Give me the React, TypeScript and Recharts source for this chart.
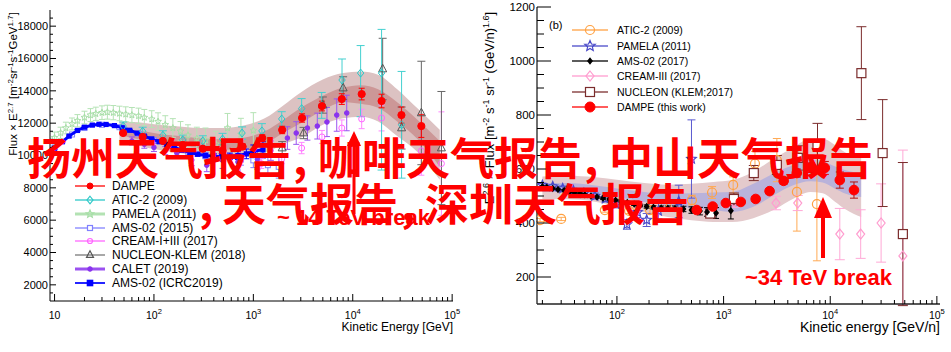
import React from "react";
import { Area, ComposedChart, ErrorBar, Scatter, XAxis, YAxis } from "recharts";

const FONT = '"Liberation Sans", Arial, sans-serif';
const CJK = '"Noto Sans CJK SC", "Noto Sans CJK JP", sans-serif';

// ---------------- left panel: protons, E in GeV, flux x E^2.7
const pDomX = [9, 102000];
const pDomY = [1000, 19000];
const pXMajor = [10, 100, 1000, 10000, 100000];
const pXExp = ["", "2", "3", "4", "5"];
const pXMinor = [20, 30, 40, 50, 60, 70, 80, 90, 200, 300, 400, 500, 600, 700, 800, 900, 2000, 3000, 4000, 5000, 6000, 7000, 8000, 9000, 20000, 30000, 40000, 50000, 60000, 70000, 80000, 90000];
const pYMajor = [2000, 4000, 6000, 8000, 10000, 12000, 14000, 16000, 18000];
const pYMinor = [1500, 2500, 3000, 3500, 4500, 5000, 5500, 6500, 7000, 7500, 8500, 9000, 9500, 10500, 11000, 11500, 12500, 13000, 13500, 14500, 15000, 15500, 16500, 17000, 17500, 18500];

const pBandE = [45, 70, 110, 180, 300, 500, 800, 1300, 2000, 3000, 5000, 8000, 12000, 18000, 28000, 45000, 75000];
const pOuterHi = [12100, 12050, 11900, 11800, 11700, 11700, 11850, 12300, 13100, 13900, 14700, 15100, 15200, 15000, 14100, 12900, 11600];
const pOuterLo = [10900, 10600, 10350, 10150, 9950, 9850, 9900, 10150, 10700, 11100, 11900, 12300, 12400, 12100, 11200, 10200, 8500];
const pInnerHi = [11650, 11550, 11350, 11200, 11050, 11000, 11100, 11500, 12200, 12950, 13700, 14200, 14350, 14100, 13300, 12200, 10900];
const pInnerLo = [11250, 11000, 10800, 10600, 10450, 10350, 10400, 10700, 11400, 12000, 12800, 13300, 13200, 12950, 12100, 11000, 9300];

const pDampeE = [49, 77, 123, 195, 310, 490, 780, 1230, 1950, 3090, 4900, 7760, 12300, 19500, 30900, 49000];
const pDampeV = [11390, 11150, 10900, 10650, 10420, 10300, 10550, 11080, 11580, 12320, 13060, 13490, 13800, 13370, 12500, 11820];
const pDampeErr = [120, 120, 120, 130, 140, 150, 170, 200, 230, 260, 300, 330, 360, 420, 500, 700];

const pAticE = [49, 77, 123, 195, 310, 490, 770, 1220, 1930, 3060, 4870, 7800, 12000, 19500, 31000];
const pAticV = [11820, 11500, 11250, 10960, 10900, 11020, 11390, 11520, 12260, 12900, 13100, 14670, 15100, 15100, 11900];
const pAticErr: (number | number[])[] = [250, 250, 280, 300, 320, 350, 380, 450, 450, 620, 800, 1300, [2700, 1700], [6000, 2700], 3300];

const pPamE = [10, 11.5, 13, 15, 17, 20, 23, 26, 30, 34, 39, 45, 52, 60, 70, 80, 95, 110, 130, 155, 185, 220, 270, 330, 420, 550, 750, 1000];
const pPamV = [11100, 11400, 11700, 11950, 12150, 12350, 12500, 12580, 12650, 12680, 12650, 12600, 12550, 12500, 12450, 12350, 12250, 12100, 11900, 11700, 11500, 11250, 11050, 10950, 10700, 11700, 11300, 11550];
const pPamErr = [350, 350, 360, 370, 380, 390, 400, 410, 420, 430, 440, 450, 460, 470, 480, 500, 520, 540, 560, 580, 600, 650, 700, 750, 800, 900, 1000, 1100];

const pAms15E = [10, 15, 20, 30, 45, 70, 100, 150, 220, 330, 500, 750, 1000, 1400, 1800];
const pAms15V = [10500, 11300, 11700, 11900, 11750, 11350, 10950, 10600, 10250, 10000, 9900, 9750, 9700, 9400, 9300];
const pAms15Err = [80, 80, 80, 80, 80, 90, 100, 120, 150, 200, 250, 350, 450, 550, 700];

const pCreamE = [1200, 1930, 3060, 4900, 7760, 12300, 19500, 49000, 78000];
const pCreamV = [9500, 9790, 10460, 11150, 11700, 12260, 12320, 10280, 9500];
const pCreamErr = [300, 300, 350, 400, 500, 600, 800, 1500, 3200];

const pNucE = [1950, 3200, 5000, 8000, 20000, 31000, 49000, 78000];
const pNucV = [10460, 11390, 13120, 14170, 15350, 11700, 12630, 10460];
const pNucErr = [400, 350, 500, 700, 1900, 1300, 3200, 3500];

const pCaletE = [60, 80, 100, 130, 170, 240, 340, 490, 700, 1100, 1500, 2200, 2700, 3500, 4400, 5500, 6900, 8700];
const pCaletV = [10900, 10700, 10500, 10300, 10150, 9720, 9400, 9700, 9600, 9750, 10300, 11080, 11390, 11700, 11820, 12070, 12500, 12630];
const pCaletErr = [250, 250, 250, 250, 300, 350, 400, 500, 500, 600, 600, 700, 700, 750, 800, 900, 1000, 1100];

const pAms19E = [10, 12, 14, 17, 20, 24, 28, 33, 40, 48, 57, 68, 80, 95, 113, 135, 160, 190, 230, 275, 330, 400, 480, 580, 700, 850, 1000, 1250];
const pAms19V = [10450, 10850, 11200, 11550, 11750, 11880, 11930, 11920, 11850, 11720, 11560, 11380, 11200, 11030, 10850, 10680, 10500, 10330, 10180, 10080, 10000, 9950, 9930, 9950, 10000, 10100, 10250, 10350];
const pAms19Err = [60, 60, 60, 60, 60, 60, 60, 60, 60, 60, 60, 60, 70, 70, 80, 80, 90, 100, 110, 120, 140, 160, 180, 200, 250, 300, 400, 500];

// ---------------- right panel: helium, E in GeV/n, flux x E^2.6
const hDomX = [17.8, 107000];
const hDomY = [100, 1200];
const hXMajor = [100, 1000, 10000, 100000];
const hXExp = ["2", "3", "4", "5"];
const hXMinor = [20, 30, 40, 50, 60, 70, 80, 90, 200, 300, 400, 500, 600, 700, 800, 900, 2000, 3000, 4000, 5000, 6000, 7000, 8000, 9000, 20000, 30000, 40000, 50000, 60000, 70000, 80000, 90000];
const hYMajor = [200, 400, 600, 800, 1000, 1200];
const hYMinor = [150, 250, 300, 350, 450, 500, 550, 650, 700, 750, 850, 900, 950, 1050, 1100, 1150];

const hBandE = [20, 35, 60, 100, 180, 300, 500, 800, 1200, 1900, 3000, 4500, 6500, 8500, 11000, 14000, 19500];
const hOuterHi = [572, 575, 570, 560, 548, 542, 545, 552, 559, 590, 640, 680, 712, 712, 690, 660, 641];
const hOuterLo = [488, 488, 480, 462, 440, 422, 410, 404, 404, 418, 450, 490, 515, 510, 480, 450, 422];
const hInnerHi = [545, 548, 540, 528, 515, 508, 510, 513, 515, 545, 585, 615, 635, 630, 610, 595, 585];
const hInnerLo = [515, 515, 508, 495, 478, 465, 455, 448, 441, 460, 505, 540, 555, 550, 528, 508, 496];

const hAmsE = [20, 22, 25, 28, 32, 36, 40, 45, 50, 57, 65, 74, 85, 97, 110, 125, 145, 165, 190, 220, 260, 300, 350, 420, 500, 600, 700, 850, 1170];
const hAmsV = [535, 532, 528, 524, 520, 515, 512, 508, 505, 500, 496, 492, 488, 484, 480, 476, 470, 465, 461, 458, 456, 455, 454, 452, 448, 444, 441, 437, 445];
const hAmsErr = [4, 4, 4, 4, 4, 4, 4, 4, 4, 4, 4, 4, 4, 4, 5, 5, 5, 5, 6, 6, 7, 8, 9, 10, 12, 14, 16, 20, 30];

const hPamE = [20, 25, 31, 39, 49, 62, 78, 98, 124, 156, 190, 245, 380, 500];
const hPamV = [540, 535, 528, 520, 510, 500, 490, 470, 395, 440, 411, 445, 480, 637];
const hPamErr = [8, 8, 9, 9, 10, 11, 12, 14, 18, 20, 24, 30, 60, 145];

const hAticE = [19, 30, 77, 130, 204, 320, 505, 780, 1230, 1970, 3160, 4870, 7500];
const hAticV = [411, 415, 448, 445, 448, 465, 485, 513, 541, 620, 633, 515, 470];
const hAticErr = [6, 6, 8, 10, 12, 15, 18, 22, 30, 45, 80, 145, 210];

const hCreamE = [1250, 3100, 4960, 12300, 19300, 30000, 48000];
const hCreamV = [478, 474, 474, 359, 359, 400, 278];
const hCreamErr: (number | number[])[] = [20, 25, 28, 95, 90, 145, [180, 392]];

const hNucE = [750, 1250, 1920, 3160, 4960, 7600, 19600, 31000, 48000];
const hNucV = [435, 489, 585, 615, 641, 689, 955, 659, 359];
const hNucErr = [15, 22, 28, 35, 45, 80, 172, 198, 265];

const hDampeE = [560, 790, 1050, 1450, 2000, 2700, 3660, 4860, 6580, 8900, 12300, 16700];
const hDampeV = [448, 461, 474, 478, 489, 518, 556, 585, 605, 604, 559, 522];
const hDampeErr = [6, 6, 7, 8, 9, 10, 12, 15, 18, 24, 30, 30];

const pts = (E: number[], V: number[], Err: (number | number[])[]) =>
  E.map((e, i) => ({ e, v: V[i], err: Err[i] }));

const band = (E: number[], oLo: number[], oHi: number[], iLo: number[], iHi: number[]) =>
  E.map((e, i) => ({ e, outer: [oLo[i], oHi[i]], inner: [iLo[i], iHi[i]] }));

const pBand = band(pBandE, pOuterLo, pOuterHi, pInnerLo, pInnerHi);
const hBand = band(hBandE, hOuterLo, hOuterHi, hInnerLo, hInnerHi);

function Marker({ kind, x, y, s, color, sw = 1 }: { kind: string; x: number; y: number; s: number; color: string; sw?: number }) {
  if (kind === "circle") return <circle cx={x} cy={y} r={s} fill={color} stroke={color} />;
  if (kind === "ocircle") return <circle cx={x} cy={y} r={s} fill="none" stroke={color} strokeWidth={sw} />;
  if (kind === "square") return <rect x={x - s} y={y - s} width={2 * s} height={2 * s} fill={color} />;
  if (kind === "osquare")
    return <rect x={x - s} y={y - s} width={2 * s} height={2 * s} fill="#fff" stroke={color} strokeWidth={sw} />;
  if (kind === "diamond" || kind === "odiamond") {
    const d = `${x},${y - s * 1.25} ${x + s},${y} ${x},${y + s * 1.25} ${x - s},${y}`;
    return kind === "diamond" ? (
      <polygon points={d} fill={color} />
    ) : (
      <polygon points={d} fill="none" stroke={color} strokeWidth={sw} />
    );
  }
  if (kind === "otriangle") {
    const d = `${x},${y - s * 1.2} ${x + s},${y + s * 0.7} ${x - s},${y + s * 0.7}`;
    return <polygon points={d} fill="none" stroke={color} strokeWidth={sw} />;
  }
  // open star
  const p: string[] = [];
  for (let k = 0; k < 10; k++) {
    const r = k % 2 === 0 ? s : s * 0.45;
    const a = -Math.PI / 2 + (k * Math.PI) / 5;
    p.push(`${x + r * Math.cos(a)},${y + r * Math.sin(a)}`);
  }
  return <polygon points={p.join(" ")} fill="none" stroke={color} strokeWidth={sw} />;
}

const shapeOf = (kind: string, s: number, color: string, sw = 1) => (p: any) =>
  p.cx == null ? <g /> : <Marker kind={kind} x={p.cx} y={p.cy} s={s} color={color} sw={sw} />;

function series(key: string, data: any[], kind: string, s: number, color: string, errColor: string, cap: number, sw = 1, line?: any) {
  return (
    <Scatter key={key} data={data} dataKey="v" isAnimationActive={false} shape={shapeOf(kind, s, color, sw)} line={line}>
      <ErrorBar dataKey="err" direction="y" width={cap} stroke={errColor} strokeWidth={1} isAnimationActive={false} />
    </Scatter>
  );
}

// tick renderers: draw inward tick marks (and labels on the main axes)
const xTick = (majors: number[], exps: string[] | null, majLen: number, minLen: number, dir: number, fs: number, dy: number) => (p: any) => {
  const v = p.payload.value;
  const i = majors.indexOf(v);
  const len = i >= 0 ? majLen : minLen;
  return (
    <g>
      <line x1={p.x} y1={p.y} x2={p.x} y2={p.y + dir * len} stroke="#000" strokeWidth={1} />
      {exps && i >= 0 && (
        <text x={p.x} y={p.y + dy} textAnchor="middle" fontSize={fs} fill="#000" fontFamily={FONT}>
          10
          {exps[i] && (
            <tspan dy={-5} fontSize={fs * 0.72}>
              {exps[i]}
            </tspan>
          )}
        </text>
      )}
    </g>
  );
};

const yTick = (majors: number[], label: boolean, majLen: number, minLen: number, dir: number, fs: number) => (p: any) => {
  const v = p.payload.value;
  const major = majors.indexOf(v) >= 0;
  const len = major ? majLen : minLen;
  return (
    <g>
      <line x1={p.x} y1={p.y} x2={p.x + dir * len} y2={p.y} stroke="#000" strokeWidth={1} />
      {label && major && (
        <text x={p.x - 2} y={p.y} dy="0.36em" textAnchor="end" fontSize={fs} fill="#000" fontFamily={FONT}>
          {v}
        </text>
      )}
    </g>
  );
};

const sortNum = (a: number[]) => [...a].sort((x, y) => x - y);

function ProtonPanel() {
  const xt = sortNum([...pXMajor, ...pXMinor]);
  const yt = sortNum([...pYMajor, ...pYMinor]);
  const ax = { stroke: "#000", strokeWidth: 1 };
  return (
    <ComposedChart width={470} height={352} data={pBand} margin={{ top: 10, right: 17, bottom: 21, left: 0 }}>
      <XAxis dataKey="e" type="number" scale="log" domain={pDomX} allowDataOverflow ticks={xt} interval={0} height={30}
        tickSize={0} tickMargin={0} tickLine={false} axisLine={ax} tick={xTick(pXMajor, pXExp, 7, 4, -1, 10.5, 18)} />
      <XAxis xAxisId="top" orientation="top" mirror height={0} dataKey="e" type="number" scale="log" domain={pDomX}
        allowDataOverflow ticks={xt} interval={0} tickSize={0} tickMargin={0} tickLine={false} axisLine={ax}
        tick={xTick(pXMajor, null, 7, 4, 1, 10, 0)} />
      <YAxis dataKey="v" type="number" domain={pDomY} allowDataOverflow ticks={yt} interval={0} width={50}
        tickSize={0} tickMargin={0} tickLine={false} axisLine={ax} tick={yTick(pYMajor, true, 6, 3, 1, 11)} />
      <YAxis yAxisId="right" orientation="right" mirror width={0} dataKey="v" type="number" domain={pDomY}
        allowDataOverflow ticks={yt} interval={0} tickSize={0} tickMargin={0} tickLine={false} axisLine={ax}
        tick={yTick(pYMajor, false, 6, 3, -1, 11)} />
      <Area dataKey="outer" type="monotone" stroke="none" fill="#dcc2c2" fillOpacity={1} isAnimationActive={false} />
      <Area dataKey="inner" type="monotone" stroke="none" fill="#cc9797" fillOpacity={1} isAnimationActive={false} />
      {series("pam", pts(pPamE, pPamV, pPamErr), "ostar", 3.5, "#a6dea6", "#b5e3b5", 3)}
      {series("ams15", pts(pAms15E, pAms15V, pAms15Err), "osquare", 2.5, "#8080ff", "#8080ff", 3)}
      {series("calet", pts(pCaletE, pCaletV, pCaletErr), "circle", 2.3, "#8a33ee", "#9a55f0", 3)}
      {series("ams19", pts(pAms19E, pAms19V, pAms19Err), "square", 2.6, "#0000ff", "#0000ff", 3, 1, { stroke: "#0000ff", strokeWidth: 3 })}
      {series("cream", pts(pCreamE, pCreamV, pCreamErr), "ocircle", 3, "#ff66ff", "#ff88ff", 3)}
      {series("nuc", pts(pNucE, pNucV, pNucErr), "otriangle", 4, "#555555", "#666666", 4)}
      {series("atic", pts(pAticE, pAticV, pAticErr), "odiamond", 3.2, "#2cc8c8", "#44d0d0", 4)}
      {series("dampe", pts(pDampeE, pDampeV, pDampeErr), "circle", 3.6, "#ff0000", "#ff0000", 3)}
    </ComposedChart>
  );
}

function HeliumPanel() {
  const xt = sortNum([...hXMajor, ...hXMinor]);
  const yt = sortNum([...hYMajor, ...hYMinor]);
  const ax = { stroke: "#222", strokeWidth: 1.3 };
  return (
    <ComposedChart width={481} height={352} data={hBand} margin={{ top: 7, right: 11, bottom: 18, left: 0 }}>
      <XAxis dataKey="e" type="number" scale="log" domain={hDomX} allowDataOverflow ticks={xt} interval={0} height={30}
        tickSize={0} tickMargin={0} tickLine={false} axisLine={ax} tick={xTick(hXMajor, hXExp, 8, 4, -1, 10.5, 15)} />
      <XAxis xAxisId="top" orientation="top" mirror height={0} dataKey="e" type="number" scale="log" domain={hDomX}
        allowDataOverflow ticks={xt} interval={0} tickSize={0} tickMargin={0} tickLine={false} axisLine={ax}
        tick={xTick(hXMajor, null, 8, 4, 1, 10, 0)} />
      <YAxis dataKey="v" type="number" domain={hDomY} allowDataOverflow ticks={yt} interval={0} width={67}
        tickSize={0} tickMargin={0} tickLine={false} axisLine={ax} tick={yTick(hYMajor, true, 14, 7, 1, 11.5)} />
      <YAxis yAxisId="right" orientation="right" mirror width={0} dataKey="v" type="number" domain={hDomY}
        allowDataOverflow ticks={yt} interval={0} tickSize={0} tickMargin={0} tickLine={false} axisLine={ax}
        tick={yTick(hYMajor, false, 13, 8, -1, 11)} />
      <Area dataKey="outer" type="monotone" stroke="none" fill="#e4cacc" fillOpacity={1} isAnimationActive={false} />
      <Area dataKey="inner" type="monotone" stroke="none" fill="#b9b2da" fillOpacity={1} isAnimationActive={false} />
      {series("atic", pts(hAticE, hAticV, hAticErr), "ocircle", 4.5, "#ffa040", "#ffaa55", 4, 1.2)}
      {series("pam", pts(hPamE, hPamV, hPamErr), "ostar", 5, "#4848c8", "#5a5ad0", 4, 1.2)}
      {series("cream", pts(hCreamE, hCreamV, hCreamErr), "odiamond", 4, "#ff9ccf", "#ffa8d6", 5, 1.2)}
      {series("nuc", pts(hNucE, hNucV, hNucErr), "osquare", 4.5, "#7b2c2c", "#7b2c2c", 5, 1.2)}
      {series("ams", pts(hAmsE, hAmsV, hAmsErr), "diamond", 3, "#000000", "#000000", 3)}
      {series("dampe", pts(hDampeE, hDampeV, hDampeErr), "circle", 4.8, "#ff0000", "#b01010", 4)}
    </ComposedChart>
  );
}

const pLegend = [
  { name: "DAMPE", color: "#ff0000", kind: "circle", s: 3, lw: 1.5 },
  { name: "ATIC-2 (2009)", color: "#2cc8c8", kind: "odiamond", s: 3, lw: 1.5 },
  { name: "PAMELA (2011)", color: "#a6dea6", kind: "ostar", s: 4, lw: 3 },
  { name: "AMS-02 (2015)", color: "#8080ff", kind: "osquare", s: 2.5, lw: 1.5 },
  { name: "CREAM-I+III (2017)", color: "#ff66ff", kind: "ocircle", s: 2.5, lw: 1.5 },
  { name: "NUCLEON-KLEM (2018)", color: "#555555", kind: "otriangle", s: 3.5, lw: 1.2 },
  { name: "CALET (2019)", color: "#8a33ee", kind: "circle", s: 2.3, lw: 3 },
  { name: "AMS-02 (ICRC2019)", color: "#0000ff", kind: "square", s: 3.3, lw: 2 },
];
const pLegendY = [186, 200, 214, 228, 241, 255, 269, 283];

const hLegend = [
  { name: "ATIC-2 (2009)", color: "#ffa040", kind: "ocircle", s: 4.5, lw: 1.5 },
  { name: "PAMELA (2011)", color: "#4848c8", kind: "ostar", s: 5.5, lw: 1.5 },
  { name: "AMS-02 (2017)", color: "#000000", kind: "diamond", s: 3, lw: 1.3 },
  { name: "CREAM-III (2017)", color: "#ff9ccf", kind: "odiamond", s: 4, lw: 1.5 },
  { name: "NUCLEON (KLEM;2017)", color: "#7b2c2c", kind: "osquare", s: 4.5, lw: 1.5 },
  { name: "DAMPE (this work)", color: "#ff0000", kind: "circle", s: 5, lw: 1.5 },
];
const hLegendY = [30, 46, 61, 76, 92, 107];

function LegendBlock({ items, ys, x0, x1, tx, fs }: { items: any[]; ys: number[]; x0: number; x1: number; tx: number; fs: number }) {
  return (
    <g>
      {items.map((it, i) => (
        <g key={it.name}>
          <line x1={x0} x2={x1} y1={ys[i]} y2={ys[i]} stroke={it.color} strokeWidth={it.lw} opacity={0.85} />
          <Marker kind={it.kind} x={(x0 + x1) / 2} y={ys[i]} s={it.s} color={it.color} sw={1.2} />
          <text x={tx} y={ys[i] + fs * 0.36} fontSize={fs} fill="#000" fontFamily={FONT}>
            {it.name}
          </text>
        </g>
      ))}
    </g>
  );
}

const bigLine1 = [
  { t: "扬州天气报告", x: 27 },
  { t: ",", x: 293 },
  { t: "咖啡天气报告", x: 318 },
  { t: ",", x: 584 },
  { t: "中山天气报告", x: 609 },
];
const bigLine2 = [
  { t: ",", x: 199 },
  { t: "天气报告", x: 222 },
  { t: ",", x: 401 },
  { t: "深圳天气报告", x: 425 },
];

export default function App() {
  return (
    <div style={{ position: "absolute", left: 0, top: 0, width: 951, height: 352, background: "#fff", overflow: "hidden", fontFamily: FONT }}>
      <div style={{ position: "absolute", left: 0, top: 0 }}>
        <ProtonPanel />
      </div>
      <div style={{ position: "absolute", left: 470, top: 0 }}>
        <HeliumPanel />
      </div>
      <svg width={951} height={352} style={{ position: "absolute", left: 0, top: 0, pointerEvents: "none" }} fontFamily={FONT}>
        {/* axis titles */}
        <text transform="translate(17,84) rotate(-90)" textAnchor="middle" fontSize={11.5} fill="#000">
          Flux × E<tspan dy={-4} fontSize={8}>2.7</tspan>
          <tspan dy={4}> [m</tspan>
          <tspan dy={-4} fontSize={8}>-2</tspan>
          <tspan dy={4}>sr</tspan>
          <tspan dy={-4} fontSize={8}>-1</tspan>
          <tspan dy={4}>s</tspan>
          <tspan dy={-4} fontSize={8}>-1</tspan>
          <tspan dy={4}>GeV</tspan>
          <tspan dy={-4} fontSize={8}>1.7</tspan>
          <tspan dy={4}>]</tspan>
        </text>
        <text x={453} y={331} textAnchor="end" fontSize={12} fill="#000">Kinetic Energy [GeV]</text>
        <text transform="translate(494,108) rotate(-90)" textAnchor="middle" fontSize={13} fill="#000">
          E<tspan dy={-5} fontSize={9}>2.6</tspan>
          <tspan dy={5}> × Flux [m</tspan>
          <tspan dy={-5} fontSize={9}>-2</tspan>
          <tspan dy={5}> s</tspan>
          <tspan dy={-5} fontSize={9}>-1</tspan>
          <tspan dy={5}> sr</tspan>
          <tspan dy={-5} fontSize={9}>-1</tspan>
          <tspan dy={5}> (GeV/n)</tspan>
          <tspan dy={-5} fontSize={9}>1.6</tspan>
          <tspan dy={5}>]</tspan>
        </text>
        <text x={940} y={332} textAnchor="end" fontSize={14} fill="#000">Kinetic energy [GeV/n]</text>
        <text x={549} y={29} fontSize={11} fill="#000">(b)</text>

        <LegendBlock items={pLegend} ys={pLegendY} x0={75} x1={105} tx={112} fs={12} />
        <LegendBlock items={hLegend} ys={hLegendY} x0={572} x1={608} tx={617} fs={10.5} />

        {/* break annotations */}
        <text x={277} y={225} fontSize={22} fontWeight={700} fill="#ff0000">~ 14 TeV break</text>
        <line x1={354} y1={214} x2={354} y2={142} stroke="#ff0000" strokeWidth={3} />
        <polygon points="354,131 347,146 361,146" fill="#ff0000" />
        <text x={745} y={285} fontSize={22} fontWeight={700} fill="#ff0000">~34 TeV break</text>
        <line x1={823} y1={258} x2={823} y2={212} stroke="#ff0000" strokeWidth={4} />
        <polygon points="823,197 814,218 832,218" fill="#ff0000" />

        {/* overlay text */}
        {bigLine1.map((s, i) => (
          <text key={"a" + i} x={s.x} y={175} fontSize={44} fontWeight={700} fill="#ff0000" fontFamily={CJK}>{s.t}</text>
        ))}
        {bigLine2.map((s, i) => (
          <text key={"b" + i} x={s.x} y={221} fontSize={44} fontWeight={700} fill="#ff0000" fontFamily={CJK}>{s.t}</text>
        ))}
      </svg>
    </div>
  );
}
